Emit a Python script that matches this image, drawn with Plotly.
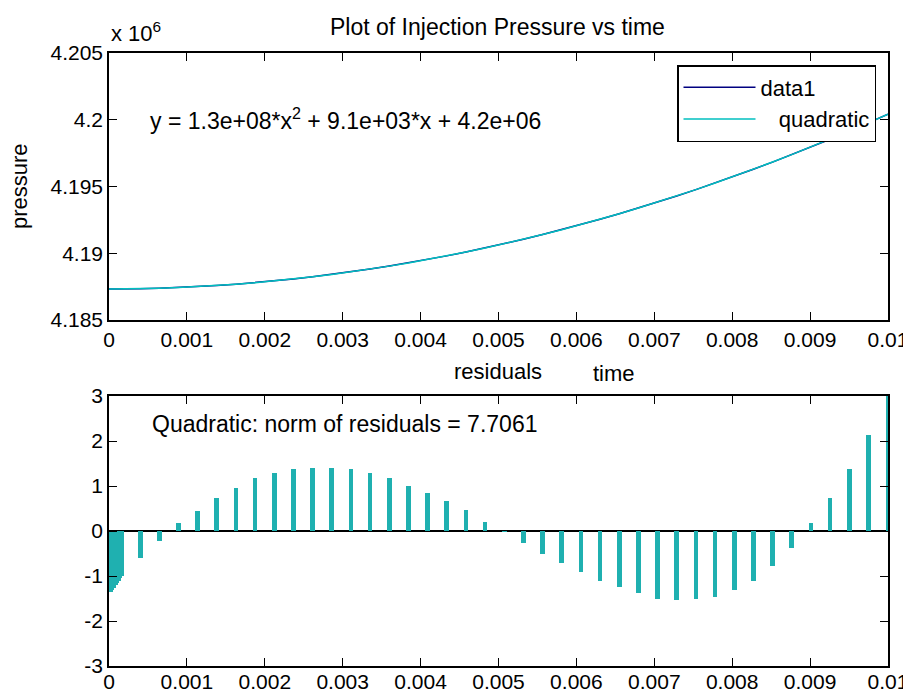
import plotly.graph_objects as go

# ---------------- data ----------------
time_s = [0.0, 0.00002, 0.00004, 0.00006, 0.00008, 0.00010, 0.00012, 0.00014, 0.00016,
          0.000400, 0.000646, 0.000892, 0.001138, 0.001384, 0.001630, 0.001876, 0.002122,
          0.002368, 0.002614, 0.002860, 0.003106, 0.003352, 0.003598, 0.003844, 0.004090,
          0.004336, 0.004582, 0.004828, 0.005074, 0.005320, 0.005566, 0.005812, 0.006058,
          0.006304, 0.006550, 0.006796, 0.007042, 0.007288, 0.007534, 0.007780, 0.008026,
          0.008272, 0.008518, 0.008764, 0.009010, 0.009256, 0.009502, 0.009748, 0.010000]

pressure = [4187319, 4187319, 4187319, 4187319, 4187320, 4187320, 4187320, 4187320, 4187321,
            4187344, 4187380, 4187432, 4187499, 4187582, 4187681, 4187796, 4187926,
            4188072, 4188234, 4188411, 4188604, 4188813, 4189037, 4189277, 4189533,
            4189804, 4190092, 4190394, 4190713, 4191047, 4191398, 4191764, 4192145,
            4192542, 4192956, 4193385, 4193829, 4194290, 4194766, 4195258, 4195766,
            4196290, 4196829, 4197384, 4197956, 4198542, 4199145, 4199764, 4200414]

residuals = [-1.36, -1.35, -1.30, -1.26, -1.20, -1.16, -1.12, -1.05, -1.00,
             -0.61, -0.22, 0.17, 0.45, 0.73, 0.96, 1.17, 1.30,
             1.37, 1.41, 1.41, 1.37, 1.30, 1.17, 1.01, 0.85,
             0.66, 0.46, 0.21, -0.01, -0.26, -0.50, -0.70, -0.90,
             -1.10, -1.25, -1.38, -1.51, -1.54, -1.51, -1.46, -1.30,
             -1.10, -0.78, -0.37, 0.17, 0.73, 1.37, 2.13, 3.05]

# quadratic fit coefficients (p2*x^2 + p1*x + p0)
p2, p1, p0 = 1.3e8, 9.1e3, 4187320.0
fit = [p2 * t * t + p1 * t + p0 for t in time_s]

x_ticks = [0, 0.001, 0.002, 0.003, 0.004, 0.005, 0.006, 0.007, 0.008, 0.009, 0.01]
x_ticktext = ['0', '0.001', '0.002', '0.003', '0.004', '0.005', '0.006', '0.007', '0.008', '0.009', '0.01']
p_ticks = [4185000, 4190000, 4195000, 4200000, 4205000]
p_ticktext = ['4.185', '4.19', '4.195', '4.2', '4.205']
r_ticks = [-3, -2, -1, 0, 1, 2, 3]
r_ticktext = ['-3', '-2', '-1', '0', '1', '2', '3']

# ---------------- figure ----------------
# the page body has an 8px margin, so the figure is drawn 8px in from the window edge
OFF = 8
W, H = 911 - OFF, 695 - OFF
FONT = 'Liberation Sans, Arial, sans-serif'
FS = 21   # tick labels
FT = 23   # texts

def px(X):
    return (X - OFF) / W

def py(Y):
    return 1 - (Y - OFF) / H

fig = go.Figure()
fig.add_trace(go.Scatter(x=time_s, y=pressure, mode='lines', name='data1',
                         line=dict(color='#000080', width=1.5), legendgroup='a',
                         xaxis='x', yaxis='y'))
fig.add_trace(go.Scatter(x=time_s, y=fit, mode='lines', name='\u00a0\u00a0\u00a0quadratic',
                         line=dict(color='rgb(0,191,191)', width=1.5), legendgroup='b',
                         xaxis='x', yaxis='y'))
fig.add_trace(go.Bar(x=time_s, y=residuals, width=0.00006, showlegend=False,
                     marker=dict(color='#1fb0b0', line=dict(width=0)),
                     xaxis='x2', yaxis='y2'))

xdom = [px(109), px(888)]
ax_common = dict(showline=True, mirror='ticks', linecolor='black', linewidth=1.5,
                 ticks='inside', ticklen=8, tickwidth=1.2, tickcolor='black',
                 showgrid=False, automargin=False,
                 tickfont=dict(family=FONT, size=FS, color='black'))

fig.update_layout(
    width=W, height=H, template='none',
    paper_bgcolor='white', plot_bgcolor='white',
    margin=dict(l=0, r=0, t=0, b=0, pad=0),
    font=dict(family=FONT, size=FS, color='black'),
    bargap=0,
    xaxis=dict(domain=xdom, range=[0, 0.01], anchor='y', tickvals=x_ticks,
               ticktext=x_ticktext, zeroline=False, **ax_common),
    yaxis=dict(domain=[py(320), py(53)], range=[4185000, 4205000], anchor='x',
               tickvals=p_ticks, ticktext=p_ticktext, zeroline=False, **ax_common),
    xaxis2=dict(domain=xdom, range=[0, 0.01], anchor='y2', tickvals=x_ticks,
                ticktext=x_ticktext, zeroline=False, ticklabelstandoff=-4, **ax_common),
    yaxis2=dict(domain=[py(666), py(396)], range=[-3, 3], anchor='x2',
                tickvals=r_ticks, ticktext=r_ticktext, zeroline=True,
                zerolinecolor='black', zerolinewidth=1.5, **ax_common),
    legend=dict(x=px(876), xanchor='right', y=py(65), yanchor='top',
                bgcolor='white', bordercolor='black', borderwidth=1.5,
                font=dict(family=FONT, size=22, color='black'),
                itemwidth=72, traceorder='grouped', tracegroupgap=0),
    showlegend=True,
)

def txt(text, x, y, xanchor='center', angle=0, size=FT):
    fig.add_annotation(text=text, x=px(x), y=py(y), xref='paper', yref='paper',
                       xanchor=xanchor, yanchor='middle', showarrow=False,
                       textangle=angle, font=dict(family=FONT, size=size, color='black'))

txt('Plot of Injection Pressure vs time', 498, 27)
txt('x 10<sup>6</sup>', 109, 32, xanchor='left', size=22)
txt('pressure', 20, 186, angle=-90, size=22)
txt('residuals', 498, 371, size=22)
txt('time', 614, 373, size=22)
txt('y = 1.3e+08*x<sup>2</sup> + 9.1e+03*x + 4.2e+06', 148, 119, xanchor='left')
txt('Quadratic: norm of residuals = 7.7061', 150, 424, xanchor='left')

fig.write_html('out.html')
